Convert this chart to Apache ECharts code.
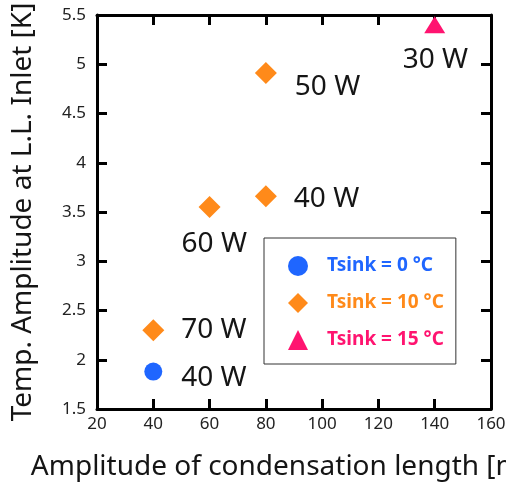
<!DOCTYPE html>
<html>
<head>
<meta charset="utf-8">
<script src="https://cdn.jsdelivr.net/npm/echarts@6/dist/echarts.min.js"></script>
<style>
  html, body { margin: 0; padding: 0; background: #fff; }
  #chart { width: 506px; height: 486px; }
</style>
</head>
<body>
<div id="chart"></div>
<script>
// Heat-sink temperature groups
const sinkNames = ['Tsink = 0 °C', 'Tsink = 10 °C', 'Tsink = 15 °C'];

// Tsink = 0 °C
const amp0 = [40];
const temp0 = [1.88];
const power0 = [40];

// Tsink = 10 °C
const amp10 = [40, 60, 80, 80];
const temp10 = [2.30, 3.55, 3.66, 4.91];
const power10 = [70, 60, 40, 50];

// Tsink = 15 °C
const amp15 = [140];
const temp15 = [5.40];
const power15 = [30];

// Axis ranges
const xMin = 20, xMax = 160, xStep = 20;
const yMin = 1.5, yMax = 5.5, yStep = 0.5;

// Label placement (pixels from marker centre to label's left/middle)
const off0 = [[28, 6]];
const off10 = [[28, 0], [-28, 37], [28, 3], [29, 14]];
const off15 = [[-32, 35]];

const colors = ['#1F66FF', '#FF8A1A', '#FF1470'];
const symbols = ['circle', 'diamond', 'triangle'];
const symbolSizes = [18, 22, [21, 17]];
const FONT = '"Noto Sans", "Open Sans", sans-serif';

function points(xs, ys, ps, offs) {
  return xs.map((x, i) => ({
    value: [x, ys[i], ps[i]],
    label: { offset: offs[i] }
  }));
}

function scatter(idx, data) {
  return {
    name: sinkNames[idx],
    type: 'scatter',
    symbol: symbols[idx],
    symbolSize: symbolSizes[idx],
    itemStyle: { color: colors[idx], opacity: 1 },
    label: {
      show: true,
      position: 'inside',
      align: 'left',
      verticalAlign: 'middle',
      formatter: p => p.value[2] + ' W',
      fontFamily: FONT,
      fontSize: 28,
      color: '#151515'
    },
    emphasis: { disabled: true },
    data: data
  };
}

const tickStyle = { show: true, inside: true, length: 10, lineStyle: { color: '#000', width: 3 } };
const lineStyle = { show: true, onZero: false, lineStyle: { color: '#000', width: 3 } };

const chart = echarts.init(document.getElementById('chart'), null, { renderer: 'canvas' });
chart.setOption({
  animation: false,
  backgroundColor: '#fff',
  grid: { left: 97, right: 15, top: 15, bottom: 77, containLabel: false, outerBoundsMode: 'none' },
  xAxis: [
    {
      type: 'value', min: xMin, max: xMax, interval: xStep, position: 'bottom',
      axisLine: lineStyle, axisTick: tickStyle, splitLine: { show: false },
      axisLabel: { fontFamily: FONT, fontSize: 17, color: '#222', margin: 7 },
      name: 'Amplitude of condensation length [mm]',
      nameLocation: 'middle', nameGap: 44,
      nameTextStyle: { fontFamily: FONT, fontSize: 28, color: '#151515' }
    },
    {
      type: 'value', min: xMin, max: xMax, interval: xStep, position: 'top',
      axisLine: lineStyle, axisTick: tickStyle, splitLine: { show: false },
      axisLabel: { show: false }
    }
  ],
  yAxis: [
    {
      type: 'value', min: yMin, max: yMax, interval: yStep, position: 'left',
      axisLine: lineStyle, axisTick: tickStyle, splitLine: { show: false },
      axisLabel: { fontFamily: FONT, fontSize: 17, color: '#222', margin: 11 },
      name: 'Temp. Amplitude at L.L. Inlet [K]',
      nameLocation: 'middle', nameGap: 60,
      nameTextStyle: { fontFamily: FONT, fontSize: 28, color: '#151515' }
    },
    {
      type: 'value', min: yMin, max: yMax, interval: yStep, position: 'right',
      axisLine: lineStyle, axisTick: tickStyle, splitLine: { show: false },
      axisLabel: { show: false }
    }
  ],
  legend: {
    orient: 'vertical',
    left: 264, top: 238,
    padding: [18, 12, 14, 24],
    itemWidth: 20, itemHeight: 20, itemGap: 17,
    symbolKeepAspect: true,
    borderColor: '#333', borderWidth: 1,
    backgroundColor: '#fff',
    selectedMode: false,
    textStyle: { fontFamily: FONT, fontSize: 19, fontWeight: 'bold', padding: [0, 0, 0, 14] },
    data: sinkNames.map((n, i) => ({ name: n, textStyle: { color: colors[i] } }))
  },
  series: [
    scatter(0, points(amp0, temp0, power0, off0)),
    scatter(1, points(amp10, temp10, power10, off10)),
    scatter(2, points(amp15, temp15, power15, off15))
  ]
});
</script>
</body>
</html>
